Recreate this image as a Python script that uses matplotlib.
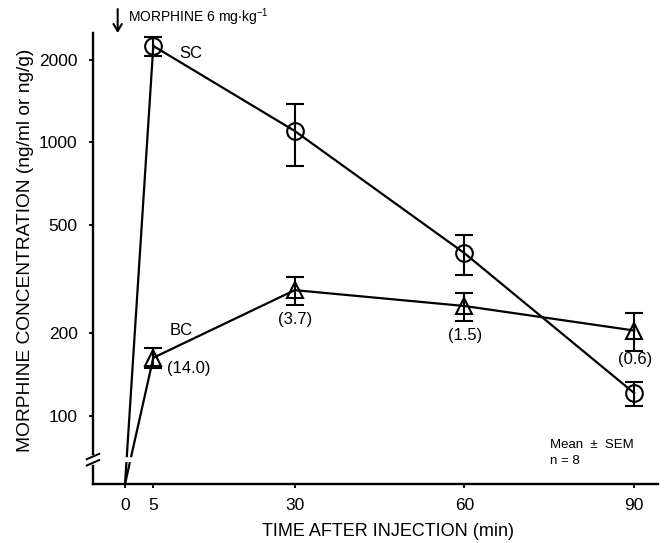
import numpy as np
import matplotlib
matplotlib.use('Agg')
import matplotlib.pyplot as plt
from matplotlib.ticker import FixedLocator, NullLocator, FixedFormatter

plt.rcParams['font.family'] = ['Liberation Sans', 'DejaVu Sans']
plt.rcParams['mathtext.default'] = 'regular'

# ---- data ----
times = [5, 30, 60, 90]
sc_mean = [2250, 1100, 393, 121]
sc_sem = [180, 280, 65, 12]
bc_mean = [163, 288, 252, 205]
bc_sem = [14, 34, 30, 33]
bc_ratio_labels = ['(14.0)', '(3.7)', '(1.5)', '(0.6)']
x_ticks = [0, 5, 30, 60, 90]
y_ticks = [100, 200, 500, 1000, 2000]
y_tick_labels = ['100', '200', '500', '1000', '2000']

YMIN, YMAX = 56.3, 2510
XMIN, XMAX = -5.66, 94.2
BREAK_LO, BREAK_HI = 67.1, 71.2   # gap in the lines at the axis break

fig = plt.figure(figsize=(6.65, 5.43), dpi=100)
ax = fig.add_axes([93 / 665, 1 - 484 / 543, 565 / 665, 451 / 543])
ax.set_yscale('log')
ax.set_xlim(XMIN, XMAX)
ax.set_ylim(YMIN, YMAX)

lw = 1.6
# connecting segment from time 0 (axis floor) to first point, with break gap
for v in (sc_mean[0], bc_mean[0]):
    L0, L1 = np.log10(YMIN), np.log10(v)
    x_lo = times[0] * (np.log10(BREAK_LO) - L0) / (L1 - L0)
    x_hi = times[0] * (np.log10(BREAK_HI) - L0) / (L1 - L0)
    ax.plot([0, x_lo], [YMIN, BREAK_LO], color='black', lw=lw, clip_on=False, zorder=3)
    ax.plot([x_hi, times[0]], [BREAK_HI, v], color='black', lw=lw, zorder=3)

ax.errorbar(times, sc_mean, yerr=sc_sem, color='black', lw=lw, marker='o',
            markersize=12, mfc='none', mec='black', mew=1.5,
            capsize=6.5, capthick=1.6, elinewidth=1.5, zorder=3)
ax.errorbar(times, bc_mean, yerr=bc_sem, color='black', lw=lw, marker='^',
            markersize=12, mfc='none', mec='black', mew=1.5,
            capsize=6.5, capthick=1.6, elinewidth=1.5, zorder=3)

# ticks
ax.xaxis.set_major_locator(FixedLocator(x_ticks))
ax.yaxis.set_major_locator(FixedLocator(y_ticks))
ax.yaxis.set_major_formatter(FixedFormatter(y_tick_labels))
ax.yaxis.set_minor_locator(NullLocator())
ax.xaxis.set_minor_locator(NullLocator())
ax.tick_params(direction='out', length=3, width=1.3, labelsize=12.5)
ax.tick_params(axis='y', pad=8)
ax.tick_params(axis='x', pad=7)

for s in ('top', 'right'):
    ax.spines[s].set_visible(False)
for s in ('left', 'bottom'):
    ax.spines[s].set_linewidth(1.7)

ax.set_xlabel('TIME AFTER INJECTION (min)', fontsize=13)
ax.xaxis.set_label_coords(0.522, -0.087)
ax.set_ylabel('MORPHINE CONCENTRATION (ng/ml or ng/g)', fontsize=13.8)
ax.yaxis.set_label_coords(-0.105, 0.519)

# axis break marks on the y axis
ax.plot([0, 0], [0.049, 0.058], transform=ax.transAxes, color='white',
        lw=4, clip_on=False, zorder=4)
for yc in (0.047, 0.061):
    ax.plot([-0.011, 0.011], [yc - 0.006, yc + 0.006], transform=ax.transAxes,
            color='black', lw=1.4, clip_on=False, zorder=5)

# series labels
ax.text(11.7, 2120, 'SC', fontsize=12, ha='center', va='center')
ax.text(9.9, 205, 'BC', fontsize=12, ha='center', va='center')
ratio_pos = [(11.2, 149.5), (30.0, 224), (60.1, 197), (90.1, 160)]
for (xx, yy), lab in zip(ratio_pos, bc_ratio_labels):
    ax.text(xx, yy, lab, fontsize=12, ha='center', va='center')

# injection arrow and note
ax.annotate('', xy=(-1.3, 1.0), xycoords=('data', 'axes fraction'),
            xytext=(-1.3, 1.053), textcoords=('data', 'axes fraction'),
            arrowprops=dict(arrowstyle='->,head_length=0.5,head_width=0.3', lw=1.5,
                            color='black', shrinkA=0, shrinkB=0))
ax.text(0.5, 1.034, r'MORPHINE 6 mg$\cdot$kg$^{-1}$', fontsize=10,
        transform=ax.get_xaxis_transform(), ha='left', va='center')

ax.text(0.809, 0.087, 'Mean  \u00b1  SEM', fontsize=9.5, transform=ax.transAxes,
        ha='left', va='center')
ax.text(0.809, 0.05, 'n = 8', fontsize=9.5, transform=ax.transAxes,
        ha='left', va='center')

fig.savefig('out.png', dpi=100)
